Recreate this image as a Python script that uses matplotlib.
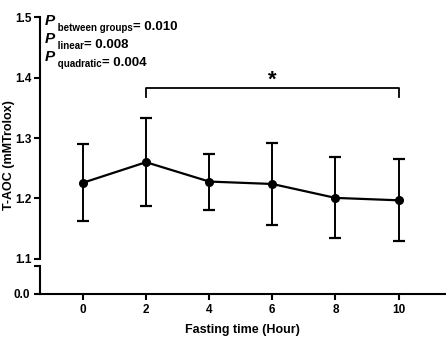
import matplotlib.pyplot as plt

plt.rcParams['font.family'] = 'Liberation Sans'
plt.rcParams['font.weight'] = 'bold'

hours = [0, 2, 4, 6, 8, 10]
taoc = [1.226, 1.260, 1.228, 1.224, 1.201, 1.197]
err_up = [0.064, 0.073, 0.046, 0.068, 0.067, 0.068]
err_lo = [0.064, 0.072, 0.047, 0.068, 0.067, 0.068]
p_labels = ["between groups", "linear", "quadratic"]
p_values = ["0.010", "0.008", "0.004"]

fig = plt.figure(figsize=(4.46, 3.37), dpi=100)
ax = fig.add_axes([0.0897, 0.2315, 0.910, 0.718])
ax2 = fig.add_axes([0.0897, 0.1276, 0.910, 0.0831])

xlim = (-1.36, 11.5)
ax.errorbar(hours, taoc, yerr=[err_lo, err_up], color='black', lw=1.6,
            marker='o', ms=5.5, capsize=4, capthick=1.6, elinewidth=1.4)
ax.set_xlim(*xlim)
ax.set_ylim(1.1, 1.5)
ax.set_yticks([1.1, 1.2, 1.3, 1.4, 1.5])
ax.set_xticks([])
for s in ['top', 'right', 'bottom']:
    ax.spines[s].set_visible(False)
ax.spines['left'].set_linewidth(1.5)
ax.tick_params(axis='y', direction='out', length=4, width=1.5, labelsize=8.5, pad=2)
ax.set_ylabel("T-AOC (mMTrolox)", fontsize=9, fontweight='bold')
ax.yaxis.set_label_coords(-0.062, 0.43)

# significance bracket between 2 h and 10 h
ax.plot([2, 2, 10, 10], [1.368, 1.383, 1.383, 1.368], color='black', lw=1.3)
ax.text(6, 1.396, "*", ha='center', va='center', fontsize=16, fontweight='bold')

# P value annotations
for i, (lab, val) in enumerate(zip(p_labels, p_values)):
    y = 1.487 - i * 0.0298
    t = ax.text(-1.2, y, "P", fontsize=11, fontweight='bold', style='italic',
                ha='left', va='baseline')
    sub = ax.annotate(" " + lab, xy=(1, 0), xycoords=t, xytext=(0, -2.5),
                      textcoords='offset points', fontsize=7, fontweight='bold',
                      ha='left', va='baseline')
    ax.annotate("= " + val, xy=(1, 0), xycoords=sub, xytext=(0, 2.5),
                textcoords='offset points', fontsize=9.5, fontweight='bold',
                ha='left', va='baseline')

ax2.set_xlim(*xlim)
ax2.set_ylim(0, 0.046)
ax2.set_yticks([0, 0.046])
ax2.set_yticklabels(['0.0', ''])
ax2.set_xticks(hours)
ax2.set_xticklabels([str(h) for h in hours])
for s in ['top', 'right']:
    ax2.spines[s].set_visible(False)
ax2.spines['left'].set_linewidth(1.5)
ax2.spines['bottom'].set_linewidth(1.5)
ax2.tick_params(axis='both', direction='out', length=4, width=1.5, labelsize=8.5, pad=3)
ax2.set_xlabel("Fasting time (Hour)", fontsize=9, fontweight='bold', labelpad=6)

fig.savefig("out.png", dpi=100)
